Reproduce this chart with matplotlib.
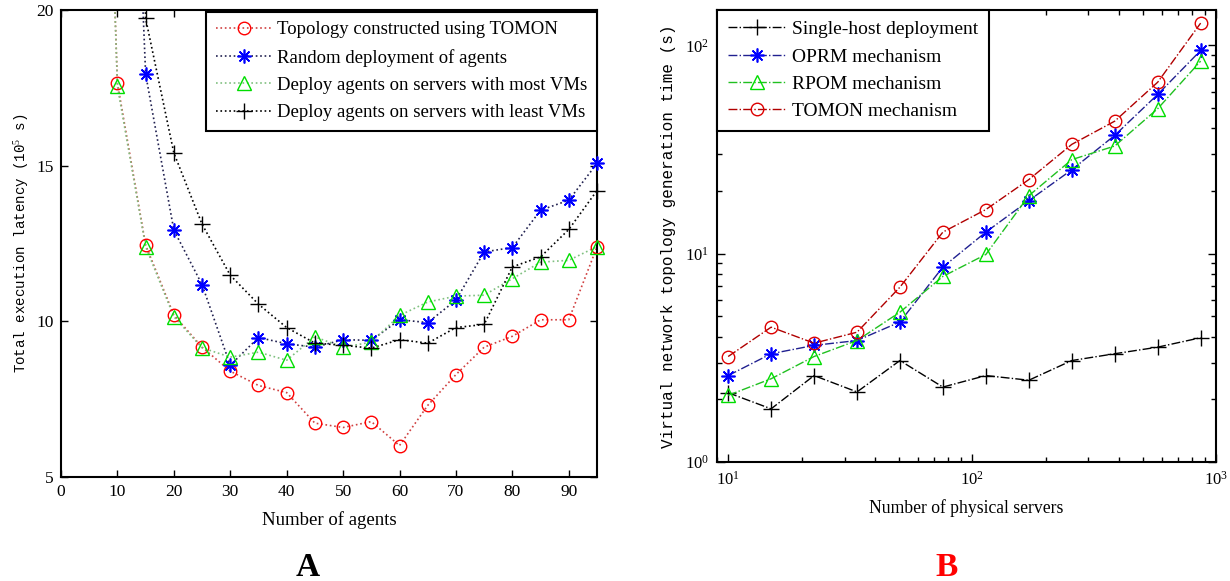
import numpy as np
import matplotlib
matplotlib.use("Agg")
import matplotlib.pyplot as plt

plt.rcParams['font.family'] = ['Liberation Serif', 'DejaVu Serif']
plt.rcParams['mathtext.fontset'] = 'custom'
plt.rcParams['mathtext.rm'] = 'Liberation Serif'
plt.rcParams['mathtext.it'] = 'Liberation Serif:italic'

# ---------------- Panel A data ----------------
agents_x = [5, 10, 15, 20, 25, 30, 35, 40, 45, 50, 55, 60, 65, 70, 75, 80, 85, 90, 95]
tomon_lat = [45.0, 17.65, 12.45, 10.2, 9.17, 8.4, 7.94, 7.71, 6.73, 6.59, 6.78, 6.01, 7.3, 8.29, 9.17, 9.52, 10.05, 10.05, 12.39]
random_lat = [np.nan, 40.0, 17.94, 12.93, 11.18, 8.59, 9.48, 9.28, 9.17, 9.41, 9.39, 10.05, 9.96, 10.68, 12.23, 12.37, 13.57, 13.89, 15.07]
most_lat = [45.0, 17.55, 12.4, 10.15, 9.15, 8.85, 9.01, 8.75, 9.5, 9.17, 9.33, 10.19, 10.62, 10.81, 10.84, 11.37, 11.9, 11.96, 12.4]
least_lat = [np.nan, 50.0, 19.73, 15.41, 13.12, 11.48, 10.55, 9.8, 9.3, 9.23, 9.14, 9.41, 9.3, 9.8, 9.9, 11.75, 12.07, 12.95, 14.2]
labels_a = ["Topology constructed using TOMON", "Random deployment of agents",
            "Deploy agents on servers with most VMs", "Deploy agents on servers with least VMs"]

# ---------------- Panel B data ----------------
servers_x = [10, 15, 22.5, 33.75, 50.6, 75.9, 113.9, 170.9, 256.3, 384.4, 576.7, 865]
single_t = [2.15, 1.80, 2.60, 2.17, 3.07, 2.29, 2.60, 2.47, 3.07, 3.31, 3.56, 3.95]
oprm_t = [2.60, 3.31, 3.63, 3.83, 4.70, 8.63, 12.7, 18.0, 25.3, 37.0, 58.2, 94.6]
rpom_t = [2.09, 2.51, 3.21, 3.83, 5.24, 7.78, 9.92, 19.0, 28.3, 32.9, 49.7, 84.1]
tomon_t = [3.21, 4.44, 3.72, 4.20, 6.91, 12.7, 16.3, 22.7, 33.5, 43.3, 66.6, 128.0]
labels_b = ["Single-host deployment", "OPRM mechanism", "RPOM mechanism", "TOMON mechanism"]

fig = plt.figure(figsize=(12.3, 5.81), dpi=100)

# ================= Panel A =================
axA = fig.add_axes([61/1230, 1-477/581, 536/1230, 467/581])
xa = np.array(agents_x, dtype=float)
series_a = [
    (tomon_lat, dict(marker='o', mec='#ff0000', mfc='none', ms=9, mew=1.0), '#d04040'),
    (random_lat, dict(marker=(8, 2, 0), mec='#0000ff', mfc='#0000ff', ms=10, mew=1.2), '#202050'),
    (most_lat, dict(marker='^', mec='#00dd00', mfc='none', ms=10, mew=1.0), '#80c080'),
    (least_lat, dict(marker='+', mec='#000000', mfc='none', ms=12, mew=1.0), '#000000'),
]
handles = []
for vals, mk, lc in series_a:
    y = np.array(vals, dtype=float)
    good = ~np.isnan(y)
    axA.plot(xa[good], y[good], ls=':', color=lc, lw=1.2, zorder=2)
    vis = good & (y <= 20)
    axA.plot(xa[vis], y[vis], ls='none', clip_on=False, zorder=3, **mk)
    h, = axA.plot([], [], ls=':', color=lc, lw=1.2, **mk)
    handles.append(h)

axA.set_xlim(0, 95)
axA.set_ylim(5, 20)
axA.set_xticks(np.arange(0, 91, 10))
axA.set_yticks([5, 10, 15, 20])
axA.tick_params(direction='in', top=True, right=True, length=5, width=1.0,
                labelsize=12.5, pad=5)
for s in axA.spines.values():
    s.set_linewidth(1.5)
axA.set_xlabel("Number of agents", fontsize=13.5, labelpad=8)
axA.set_ylabel("Total execution latency (10$^5$ s)", fontsize=10.2,
               family=['Liberation Mono'], labelpad=4)
legA = axA.legend(handles, labels_a, loc='upper right', bbox_to_anchor=(1.0, 0.996),
                  fontsize=13.5, frameon=True, fancybox=False, edgecolor='black',
                  framealpha=1, borderaxespad=0, handlelength=3.0, handletextpad=0.3,
                  labelspacing=0.55, borderpad=0.5)
legA.get_frame().set_linewidth(1.5)

# ================= Panel B =================
axB = fig.add_axes([717/1230, 1-462/581, 499/1230, 452/581])
series_b = [
    (single_t, dict(marker='+', mec='#000000', mfc='none', ms=12, mew=1.0), '#000000'),
    (oprm_t, dict(marker=(8, 2, 0), mec='#0000ff', mfc='#0000ff', ms=10, mew=1.2), '#202090'),
    (rpom_t, dict(marker='^', mec='#00dd00', mfc='none', ms=10, mew=1.0), '#20c020'),
    (tomon_t, dict(marker='o', mec='#dd0000', mfc='none', ms=9, mew=1.0), '#b00000'),
]
hb = []
for vals, mk, lc in series_b:
    h, = axB.plot(servers_x, vals, ls='-.', color=lc, lw=1.0, clip_on=False, **mk)
    hb.append(h)
axB.set_xscale('log')
axB.set_yscale('log')
axB.set_xlim(9, 1000)
axB.set_ylim(1, 148)
axB.tick_params(which='both', direction='in', top=True, right=True, width=1.0)
axB.tick_params(which='major', length=6, labelsize=12, pad=6)
axB.tick_params(which='minor', length=3.5)
for s in axB.spines.values():
    s.set_linewidth(1.5)
axB.set_xlabel("Number of physical servers", fontsize=12.7, labelpad=8)
axB.set_ylabel("Virtual network topology generation time (s)", fontsize=11.5,
               family=['Liberation Mono'], labelpad=6)
legB = axB.legend(hb, labels_b, loc='upper left', bbox_to_anchor=(0.0, 1.0),
                  fontsize=14, frameon=True, fancybox=False, edgecolor='black',
                  framealpha=1, borderaxespad=0, handlelength=3.0, handletextpad=0.3,
                  labelspacing=0.5, borderpad=0.55)
legB.get_frame().set_linewidth(1.5)

fig.text(308/1230, 1-576/581, "A", fontsize=24, fontweight='bold', ha='center', va='baseline',
         color='black')
fig.text(947/1230, 1-576/581, "B", fontsize=24, fontweight='bold', ha='center', va='baseline',
         color='#ff0000')

fig.savefig("out.png", dpi=100)
